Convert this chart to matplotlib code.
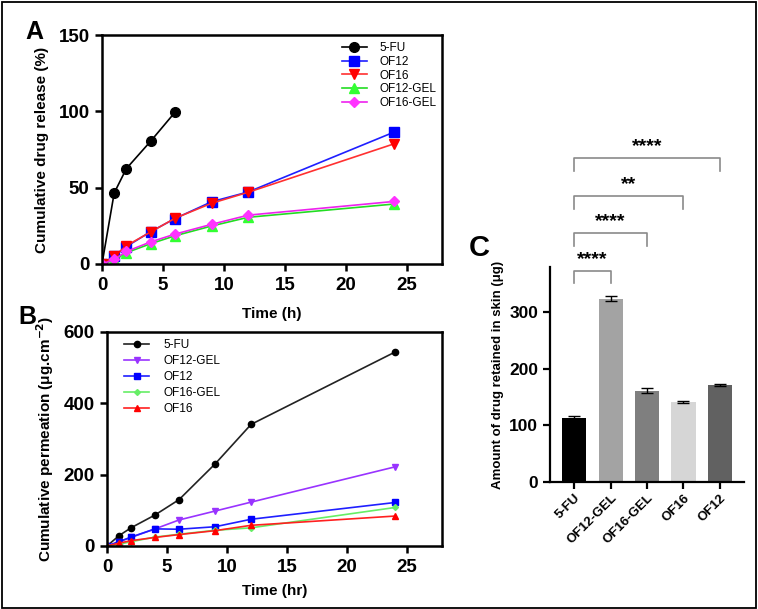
import matplotlib
matplotlib.use("Agg")
import matplotlib.pyplot as plt
from matplotlib.patches import Rectangle

plt.rcParams['font.family'] = ['Liberation Sans', 'DejaVu Sans']

# ---------------- Panel A data ----------------
t_fu_a = [0, 1, 2, 4, 6]
fu_a = [0, 46.5, 62.5, 80.5, 99.5]
t_a = [0, 1, 2, 4, 6, 9, 12, 24]
of12_a = [0, 5.2, 11.4, 21.2, 29.8, 40.8, 47.2, 86.5]
of16_a = [0, 5.0, 12.0, 21.0, 30.0, 39.8, 47.0, 78.8]
of12gel_a = [0, 2.5, 7.4, 13.3, 18.5, 24.9, 30.6, 39.3]
of16gel_a = [0, 3.0, 8.2, 14.5, 19.6, 26.0, 32.0, 41.0]

# ---------------- Panel B data ----------------
t_b = [0, 1, 2, 4, 6, 9, 12, 24]
fu_b = [0, 29, 51, 87, 130, 230, 341, 544]
of12gel_b = [0, 12, 24, 48, 73, 98, 123, 222]
of12_b = [0, 12, 25, 48, 47, 54, 75, 122]
of16gel_b = [0, 5, 12, 25, 33, 44, 51, 108]
of16_b = [0, 8, 15, 24, 32, 43, 58, 84]

# ---------------- Panel C data ----------------
c_labels = ['5-FU', 'OF12-GEL', 'OF16-GEL', 'OF16', 'OF12']
c_values = [113, 323, 161, 141, 171]
c_errors = [3, 4, 4, 2, 2]
c_colors = ['#000000', '#a3a3a3', '#7f7f7f', '#d6d6d6', '#616161']
sig_pairs = [(0, 1, '****'), (0, 2, '****'), (0, 3, '**'), (0, 4, '****')]

W, H = 758, 609
fig = plt.figure(figsize=(W / 100, H / 100), dpi=100)

def ax_px(l, t, r, b):
    return fig.add_axes([l / W, 1 - b / H, (r - l) / W, (b - t) / H])

def style_line_ax(ax):
    for s in ax.spines.values():
        s.set_linewidth(1.8)
    ax.tick_params(direction='out', length=5, width=1.8, labelsize=13.5, pad=4)
    for lab in ax.get_xticklabels() + ax.get_yticklabels():
        lab.set_fontweight('bold')

# ---------------- Panel A ----------------
axA = ax_px(102, 35, 442, 264)
axA.plot(t_fu_a, fu_a, '-o', color='black', mfc='black', mec='black', ms=7, lw=1.2, label='5-FU')
axA.plot(t_a, of12_a, '-s', color='#1f1fff', mfc='#0000ff', mec='#0000ff', ms=7, lw=1.2, label='OF12')
axA.plot(t_a, of16_a, '-v', color='#ff3030', mfc='#ff0000', mec='#ff0000', ms=7, lw=1.2, label='OF16')
axA.plot(t_a, of12gel_a, '-^', color='#22dd22', mfc='#33ff33', mec='#33ff33', ms=7, lw=1.2, label='OF12-GEL')
axA.plot(t_a, of16gel_a, '-D', color='#ee22ee', mfc='#ff33ff', mec='#ff33ff', ms=5.5, lw=1.2, label='OF16-GEL')
axA.set_xlim(0, 27.9)
axA.set_ylim(0, 150)
axA.set_xticks([0, 5, 10, 15, 20, 25])
axA.set_yticks([0, 50, 100, 150])
axA.set_xlabel('Time (h)', fontsize=11, fontweight='bold', labelpad=10)
axA.set_ylabel('Cumulative drug release (%)', fontsize=11, fontweight='bold', labelpad=7)
style_line_ax(axA)
axA.legend(loc='upper left', bbox_to_anchor=(0.685, 1.0), frameon=False, fontsize=8.5,
           handlelength=2.1, handletextpad=1.1, labelspacing=0.15, borderaxespad=0.2)

# ---------------- Panel B ----------------
axB = ax_px(107, 332, 442, 546)
axB.plot(t_b, fu_b, '-o', color='#222222', mfc='black', mec='black', ms=4.5, lw=1.2, label='5-FU')
axB.plot(t_b, of12gel_b, '-v', color='#9933ff', mfc='#9933ff', mec='#9933ff', ms=4.5, lw=1.2, label='OF12-GEL')
axB.plot(t_b, of12_b, '-s', color='#1f1fff', mfc='#0000ff', mec='#0000ff', ms=4.5, lw=1.2, label='OF12')
axB.plot(t_b, of16gel_b, '-D', color='#66ee66', mfc='#66ee66', mec='#66ee66', ms=3, lw=1.2, label='OF16-GEL')
axB.plot(t_b, of16_b, '-^', color='#ff2020', mfc='#ff0000', mec='#ff0000', ms=4.5, lw=1.2, label='OF16')
axB.set_xlim(0, 27.9)
axB.set_ylim(0, 600)
axB.set_xticks([0, 5, 10, 15, 20, 25])
axB.set_yticks([0, 200, 400, 600])
axB.set_xlabel('Time (hr)', fontsize=11, fontweight='bold', labelpad=6)
axB.set_ylabel('Cumulative permeation (\u03bcg.cm$^{\\mathbf{-2}}$)', fontsize=11, fontweight='bold', labelpad=5)
style_line_ax(axB)
axB.legend(loc='upper left', bbox_to_anchor=(0.03, 1.0), frameon=False, fontsize=8.5,
           handlelength=2.1, handletextpad=1.2, labelspacing=0.34, borderaxespad=0.2)

# ---------------- Panel C ----------------
axC = ax_px(550, 267, 744, 482)
xs = list(range(len(c_labels)))
axC.bar(xs, c_values, width=0.66, color=c_colors, edgecolor='none')
axC.errorbar(xs, c_values, yerr=c_errors, fmt='none', ecolor='black', elinewidth=1, capsize=4, capthick=1)
axC.set_xlim(-0.66, 4.66)
axC.set_ylim(0, 379)
axC.set_yticks([0, 100, 200, 300])
axC.set_xticks(xs)
axC.set_xticklabels(c_labels, rotation=45, ha='right', rotation_mode='anchor', fontsize=9.5, fontweight='bold')
axC.spines['top'].set_visible(False)
axC.spines['right'].set_visible(False)
for s in ['left', 'bottom']:
    axC.spines[s].set_linewidth(1.6)
axC.tick_params(direction='out', length=5, width=1.6, labelsize=12.5)
axC.tick_params(axis='x', labelsize=9.5, pad=2)
for lab in axC.get_yticklabels():
    lab.set_fontweight('bold')
axC.set_ylabel('Amount of drug retained in skin (\u03bcg)', fontsize=9.5, fontweight='bold', labelpad=4)

bracket_tops = [372, 438.5, 503.7, 570.6]
leg_drop = 22
for (i, j, txt), yt in zip(sig_pairs, bracket_tops):
    axC.plot([i, i, j, j], [yt - leg_drop, yt, yt, yt - leg_drop], color='#8a8a8a', lw=1.2, clip_on=False)
    axC.text((i + j) / 2, yt + 5, txt, ha='center', va='bottom', fontsize=14, fontweight='bold', clip_on=False)

# ---------------- panel letters ----------------
fig.text(34 / W, 1 - 32 / H, 'A', fontsize=18, fontweight='bold', ha='center', va='center')
fig.text(27 / W, 1 - 317 / H, 'B', fontsize=18, fontweight='bold', ha='center', va='center')
fig.text(479 / W, 1 - 248 / H, 'C', fontsize=21, fontweight='bold', ha='center', va='center')

# outer border
fig.add_artist(Rectangle((1.5 / W, 1.5 / H), (W - 3.5) / W, (H - 3.5) / H, transform=fig.transFigure,
                         fill=False, edgecolor='black', lw=1.3))

fig.savefig('out.png', dpi=100)
